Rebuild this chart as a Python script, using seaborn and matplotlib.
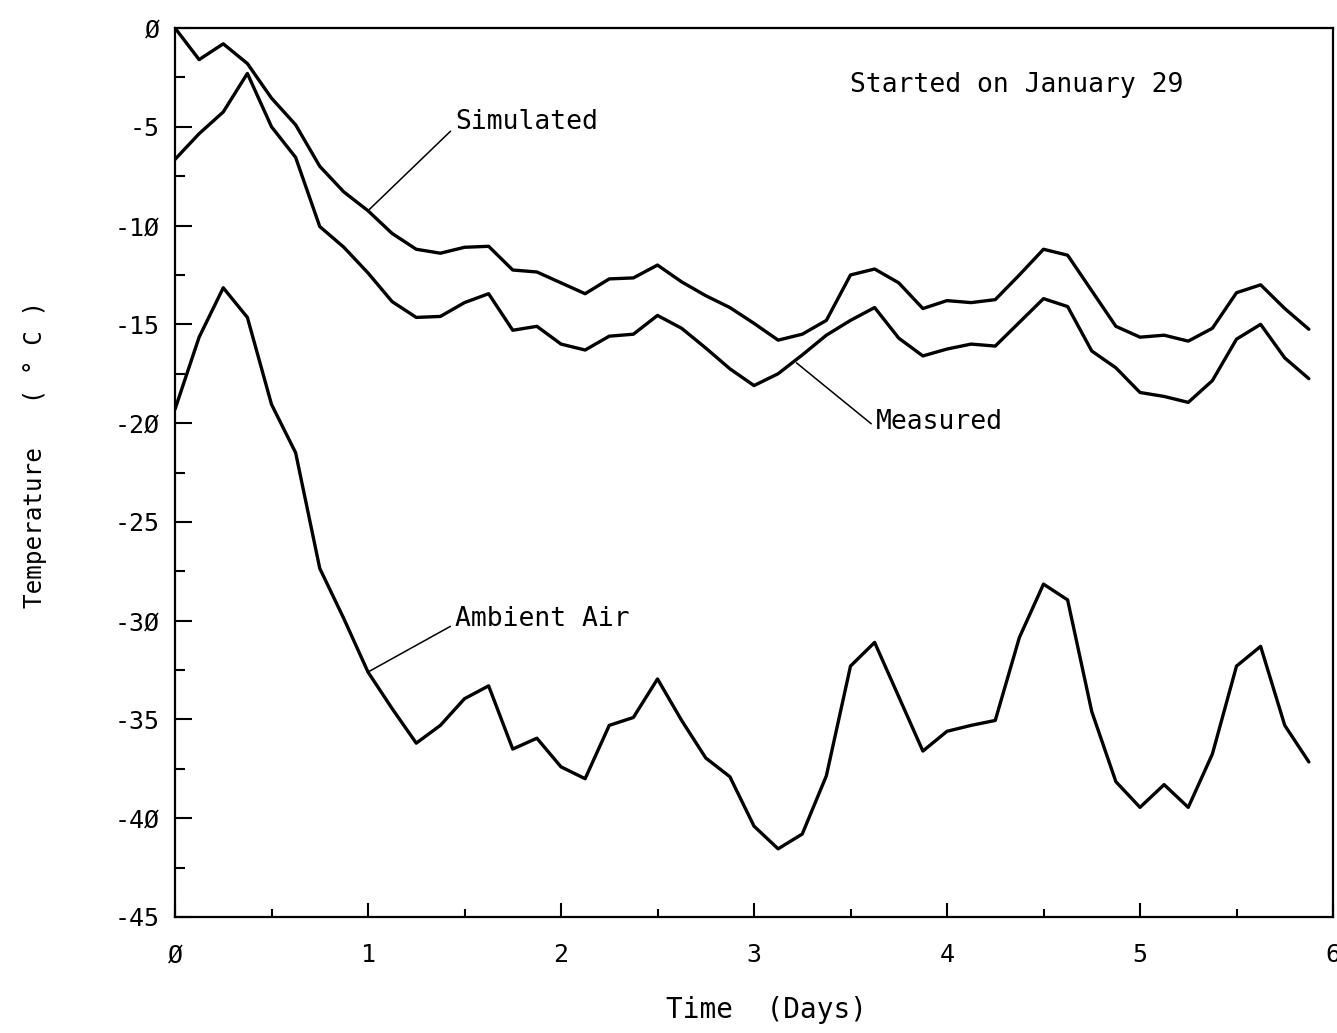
import numpy as np
import pandas as pd
import matplotlib
matplotlib.use("Agg")
import matplotlib.pyplot as plt
from matplotlib.ticker import FixedLocator, FixedFormatter, MultipleLocator
import seaborn as sns

# Readings every 3 hours over six days
hours = np.arange(0, 144, 3)
days = hours / 24.0

simulated = [0.0, -1.6, -0.8, -1.8, -3.55, -4.9, -7.0, -8.3, -9.25, -10.4,
             -11.2, -11.4, -11.1, -11.05, -12.25, -12.35, -12.9, -13.45, -12.7, -12.65,
             -12.0, -12.85, -13.55, -14.15, -14.95, -15.8, -15.5, -14.8, -12.5, -12.2,
             -12.9, -14.2, -13.8, -13.9, -13.75, -12.5, -11.2, -11.5, -13.3, -15.1,
             -15.65, -15.55, -15.85, -15.2, -13.4, -13.0, -14.2, -15.25]

measured = [-6.65, -5.35, -4.25, -2.3, -5.0, -6.55, -10.05, -11.1, -12.4, -13.85,
            -14.65, -14.6, -13.9, -13.45, -15.3, -15.1, -16.0, -16.3, -15.6, -15.5,
            -14.55, -15.2, -16.2, -17.25, -18.1, -17.5, -16.55, -15.55, -14.8, -14.15,
            -15.7, -16.6, -16.25, -16.0, -16.1, -14.9, -13.7, -14.1, -16.35, -17.2,
            -18.45, -18.65, -18.95, -17.85, -15.75, -15.0, -16.7, -17.75]

ambient = [-19.3, -15.65, -13.15, -14.65, -19.05, -21.5, -27.35, -29.9, -32.6, -34.45,
           -36.2, -35.3, -33.95, -33.3, -36.5, -35.95, -37.4, -38.0, -35.3, -34.9,
           -32.95, -35.05, -36.95, -37.9, -40.4, -41.55, -40.8, -37.85, -32.3, -31.1,
           -33.85, -36.6, -35.6, -35.3, -35.05, -30.85, -28.15, -28.95, -34.6, -38.15,
           -39.45, -38.3, -39.45, -36.75, -32.3, -31.3, -35.3, -37.15]

x_ticks = [0, 1, 2, 3, 4, 5, 6]
x_tick_labels = ["Ø", "1", "2", "3", "4", "5", "6"]
y_ticks = [0, -5, -10, -15, -20, -25, -30, -35, -40, -45]
y_tick_labels = ["Ø", "-5", "-1Ø", "-15", "-2Ø", "-25", "-3Ø", "-35", "-4Ø", "-45"]

sns.set_style("ticks")
plt.rcParams["font.family"] = ["DejaVu Sans Mono", "DejaVu Sans"]
plt.rcParams["text.color"] = "black"
plt.rcParams["axes.labelcolor"] = "black"
plt.rcParams["xtick.color"] = "black"
plt.rcParams["ytick.color"] = "black"

fig = plt.figure(figsize=(13.37, 10.33), dpi=100)
ax = fig.add_axes([175 / 1337, 1 - 917 / 1033, 1158 / 1337, 889 / 1033])

df = pd.DataFrame({"day": days, "Simulated": simulated,
                   "Measured": measured, "Ambient Air": ambient})
for col in ["Simulated", "Measured", "Ambient Air"]:
    sns.lineplot(data=df, x="day", y=col, ax=ax, color="black",
                 linewidth=2.4, legend=False)

ax.set_xlim(0, 6)
ax.set_ylim(-45, 0)

for side in ["left", "right", "top", "bottom"]:
    ax.spines[side].set_visible(True)
    ax.spines[side].set_linewidth(1.6)
    ax.spines[side].set_color("black")

ax.xaxis.set_major_locator(FixedLocator(x_ticks))
ax.xaxis.set_major_formatter(FixedFormatter(x_tick_labels))
ax.xaxis.set_minor_locator(MultipleLocator(0.5))
ax.yaxis.set_major_locator(FixedLocator(y_ticks))
ax.yaxis.set_major_formatter(FixedFormatter(y_tick_labels))
ax.yaxis.set_minor_locator(MultipleLocator(2.5))

ax.tick_params(axis="x", which="major", direction="in", length=10, width=1.5,
               pad=19, labelsize=18, top=False)
ax.tick_params(axis="x", which="minor", direction="in", length=5.5, width=1.5, top=False)
ax.tick_params(axis="y", which="major", direction="in", length=12, width=1.5,
               pad=11, labelsize=18, right=False)
ax.tick_params(axis="y", which="minor", direction="in", length=7, width=1.5, right=False)

ax.set_xlabel("Time  (Days)", fontsize=20, va="center", color="black")
ax.xaxis.set_label_coords(0.511, -0.105)
ax.set_ylabel("Temperature   ( ° C )", fontsize=17.5, va="center", color="black")
ax.yaxis.set_label_coords(-0.121, 0.52)

leader = dict(arrowstyle="-", color="black", lw=1.1, shrinkA=1, shrinkB=0)
ax.annotate("Simulated", xy=(days[8], simulated[8]), xytext=(1.45, -4.75),
            fontsize=19, ha="left", va="center", color="black",
            arrowprops=dict(leader, relpos=(0, 0.3)))
ax.annotate("Measured", xy=(3.22, -16.95), xytext=(3.63, -19.95),
            fontsize=19, ha="left", va="center", color="black",
            arrowprops=dict(leader, relpos=(0, 0.3)))
ax.annotate("Ambient Air", xy=(days[8], ambient[8]), xytext=(1.45, -29.9),
            fontsize=19, ha="left", va="center", color="black",
            arrowprops=dict(leader, relpos=(0, 0.3)))
ax.text(3.5, -2.9, "Started on January 29", fontsize=19, ha="left", va="center",
        color="black")

fig.savefig("out.png", dpi=100, facecolor="white")
